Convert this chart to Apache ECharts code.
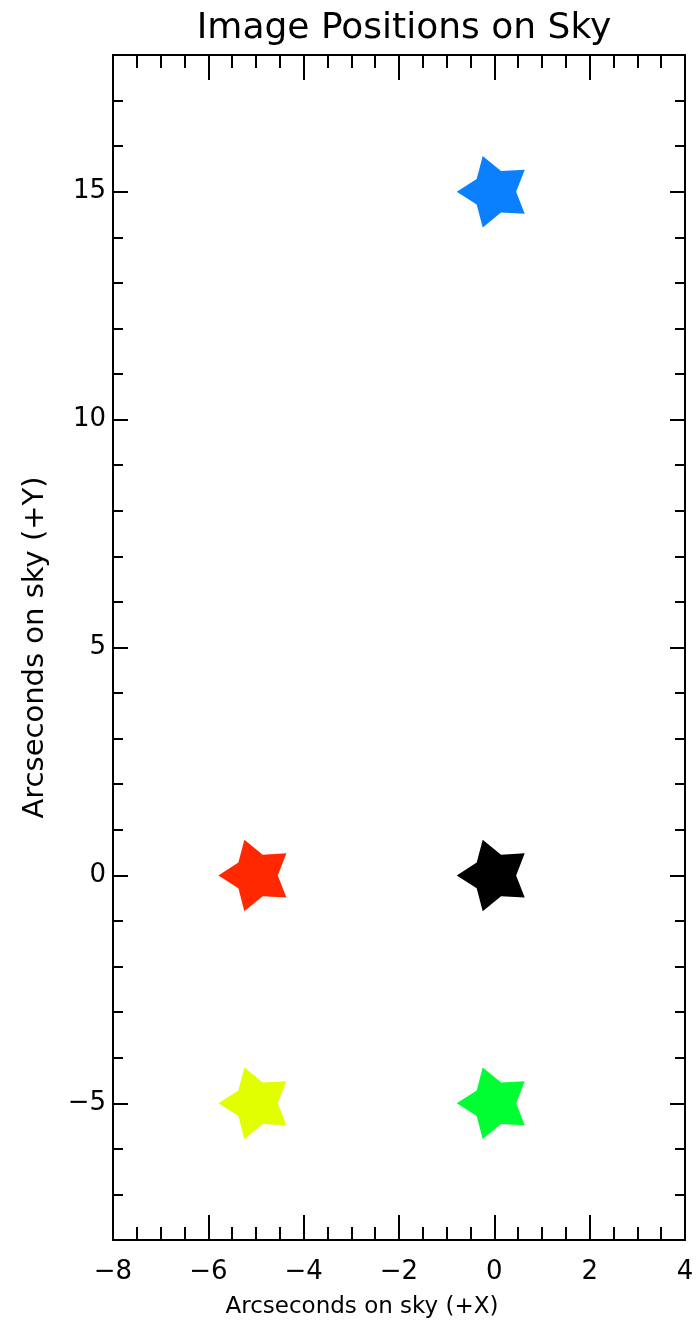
<!DOCTYPE html>
<html>
<head>
<meta charset="utf-8">
<script src="https://cdn.jsdelivr.net/npm/echarts@6/dist/echarts.min.js"></script>
<style>
  html, body { margin: 0; padding: 0; background: #fff; }
  #chart { width: 698px; height: 1325px; }
</style>
</head>
<body>
<div id="chart"></div>
<script>
// Image positions (arcseconds on sky)
const imageNames = ['A', 'B', 'C', 'D', 'E'];
const xArcsec = [0, -5, 0, -5, 0];
const yArcsec = [15, 0, 0, -5, -5];
const imageColors = ['#0a80ff', '#ff2800', '#000000', '#e2ff00', '#00ff32'];

// Axis ranges and tick values
const xRange = [-8, 4];
const yRange = [-8, 18];
const yMajorTicks = [-5, 0, 5, 10, 15];
const yMinorTicks = [-7, -6, -5, -4, -3, -2, -1, 0, 1, 2, 3, 4, 5, 6, 7, 8, 9, 10, 11, 12, 13, 14, 15, 16, 17];

const titleText = 'Image Positions on Sky';
const xName = 'Arcseconds on sky (+X)';
const yName = 'Arcseconds on sky (+Y)';

// Five-pointed star pointing left (wide arms)
const STAR = 'path://M0,95.1L53.1,61L69.1,0L117.9,39.9L180.9,36.3L158,95.1L180.9,153.9L117.9,150.3L69.1,190.2L53.1,129.2Z';

const FONT = 'DejaVu Sans';
const ink = '#000';
const minus = v => String(v).replace('-', '\u2212');

const frameLine = { show: true, onZero: false, lineStyle: { color: ink, width: 2 } };
const hiddenLine = { show: false, onZero: false };

function xAxisDef(pos, withLabels) {
  return {
    type: 'value', position: pos, min: xRange[0], max: xRange[1], interval: 2,
    axisLine: frameLine,
    axisTick: { show: true, inside: true, length: 25, lineStyle: { color: ink, width: 2 } },
    minorTick: { show: true, splitNumber: 4, length: 13, lineStyle: { color: ink, width: 2 } },
    axisLabel: withLabels
      ? { show: true, margin: 19, fontFamily: FONT, fontSize: 26, color: ink, formatter: minus }
      : { show: false },
    splitLine: { show: false },
    name: withLabels ? xName : '',
    nameLocation: 'middle', nameGap: 56,
    nameTextStyle: { fontFamily: FONT, fontSize: 23, color: ink, padding: [0, 74, 0, 0] }
  };
}

function yAxisDef(pos, values, len, withLabels, withLine) {
  return {
    type: 'value', position: pos, min: yRange[0], max: yRange[1],
    axisLine: withLine ? frameLine : hiddenLine,
    axisTick: { show: true, inside: true, length: len, customValues: values, lineStyle: { color: ink, width: 2 } },
    axisLabel: withLabels
      ? { show: true, margin: 7, fontFamily: FONT, fontSize: 26, color: ink, customValues: values, formatter: minus }
      : { show: false },
    splitLine: { show: false },
    name: withLabels ? yName : '',
    nameLocation: 'middle', nameGap: 63, nameRotate: 90,
    nameTextStyle: { fontFamily: FONT, fontSize: 29, color: ink }
  };
}

const chart = echarts.init(document.getElementById('chart'), null, { renderer: 'canvas' });

chart.setOption({
  backgroundColor: '#fff',
  animation: false,
  title: {
    text: titleText, left: 399, top: 6, textAlign: 'center',
    textStyle: { fontFamily: FONT, fontSize: 36, fontWeight: 'normal', color: ink }
  },
  grid: { left: 113, right: 13, top: 55, bottom: 85 },
  xAxis: [xAxisDef('bottom', true), xAxisDef('top', false)],
  yAxis: [
    yAxisDef('left', yMajorTicks, 15, true, true),
    yAxisDef('left', yMinorTicks, 10, false, false),
    yAxisDef('right', yMajorTicks, 15, false, true),
    yAxisDef('right', yMinorTicks, 10, false, false)
  ],
  series: [{
    type: 'scatter',
    xAxisIndex: 0, yAxisIndex: 0,
    symbol: STAR,
    symbolSize: [68, 71.5],
    symbolOffset: [-3.6, 0],
    data: imageNames.map((n, i) => ({
      name: n,
      value: [xArcsec[i], yArcsec[i]],
      itemStyle: { color: imageColors[i], opacity: 1 }
    }))
  }]
});
</script>
</body>
</html>
